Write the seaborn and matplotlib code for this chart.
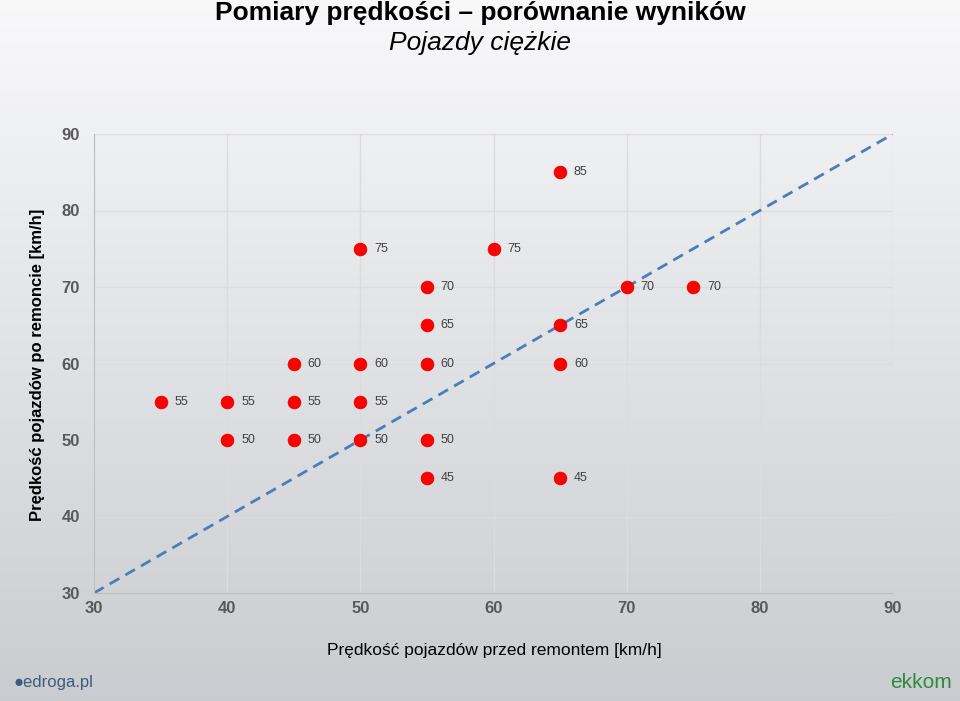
import numpy as np
import pandas as pd
import matplotlib
matplotlib.use("Agg")
import matplotlib.pyplot as plt
import seaborn as sns

before = [35, 40, 40, 45, 45, 45, 50, 50, 50, 50, 55, 55, 55, 55, 55, 60, 65, 65, 65, 65, 70, 75]
after = [55, 55, 50, 60, 55, 50, 75, 60, 55, 50, 70, 65, 60, 50, 45, 75, 85, 65, 60, 45, 70, 70]
ticks = [30, 40, 50, 60, 70, 80, 90]

title = "Pomiary prędkości – porównanie wyników"
subtitle = "Pojazdy ciężkie"
xlabel = "Prędkość pojazdów przed remontem [km/h]"
ylabel = "Prędkość pojazdów po remoncie [km/h]"

sns.set_style("white")
plt.rcParams["font.family"] = ["Liberation Sans", "DejaVu Sans"]

df = pd.DataFrame({"before": before, "after": after})

fig = plt.figure(figsize=(9.6, 7.01), dpi=100)
# background gradient
bg = fig.add_axes([0, 0, 1, 1], zorder=-10)
grad = np.linspace(0, 1, 256)[:, None]
top = np.array([0.975, 0.975, 0.98])
bot = np.array([0.79, 0.80, 0.815])
img = top[None, None, :] * (1 - grad[:, :, None]) + bot[None, None, :] * grad[:, :, None]
bg.imshow(img, aspect="auto", extent=[0, 1, 0, 1])
bg.axis("off")

ax = fig.add_axes([94 / 960, 1 - 593 / 701, (893 - 94) / 960, (593 - 134) / 701])
ax.patch.set_alpha(0)

ax.plot([30, 90], [30, 90], ls=(0, (4, 2.5)), color="#4a7ebb", lw=2, zorder=2)
sns.scatterplot(data=df, x="before", y="after", ax=ax, color="#ff0000", s=85,
                edgecolor="#e00000", linewidth=0.5, zorder=3, legend=False)
for xv, yv in zip(before, after):
    ax.annotate(f"{yv}", (xv, yv), xytext=(10, 0), textcoords="offset points",
                ha="left", va="center", fontsize=9, color="#404040")

ax.set_xlim(30, 90)
ax.set_ylim(30, 90)
ax.set_xticks(ticks)
ax.set_yticks(ticks)
ax.grid(True, color="#dcdce0", lw=1)
ax.set_axisbelow(True)
for s in ["top", "right"]:
    ax.spines[s].set_visible(False)
for s in ["left", "bottom"]:
    ax.spines[s].set_color("#bfbfbf")
ax.tick_params(axis="x", length=0, pad=6, labelsize=12, labelcolor="#595959")
ax.tick_params(axis="y", length=0, pad=10, labelsize=12, labelcolor="#595959")
for lab in ax.get_xticklabels() + ax.get_yticklabels():
    lab.set_fontweight("bold")
ax.set_xlabel("")
ax.set_ylabel("")

fig.text(0.5, 1 - 13 / 701, title, ha="center", va="center", fontsize=19, fontweight="bold", color="black")
fig.text(0.5, 1 - 43 / 701, subtitle, ha="center", va="center", fontsize=19, style="italic", color="black")
fig.text(494 / 960, 1 - 650 / 701, xlabel, ha="center", va="center", fontsize=12.5, color="black")
fig.text(38 / 960, 1 - 365 / 701, ylabel, ha="center", va="center", rotation=90, fontsize=12,
         fontweight="bold", color="black")
fig.text(14 / 960, 1 - 682 / 701, "\u25cfedroga.pl", ha="left", va="center", fontsize=12, color="#3d5a80")
fig.text(952 / 960, 1 - 682 / 701, "ekkom", ha="right", va="center", fontsize=15, color="#2e8b3d")

fig.savefig("out.png", dpi=100)
